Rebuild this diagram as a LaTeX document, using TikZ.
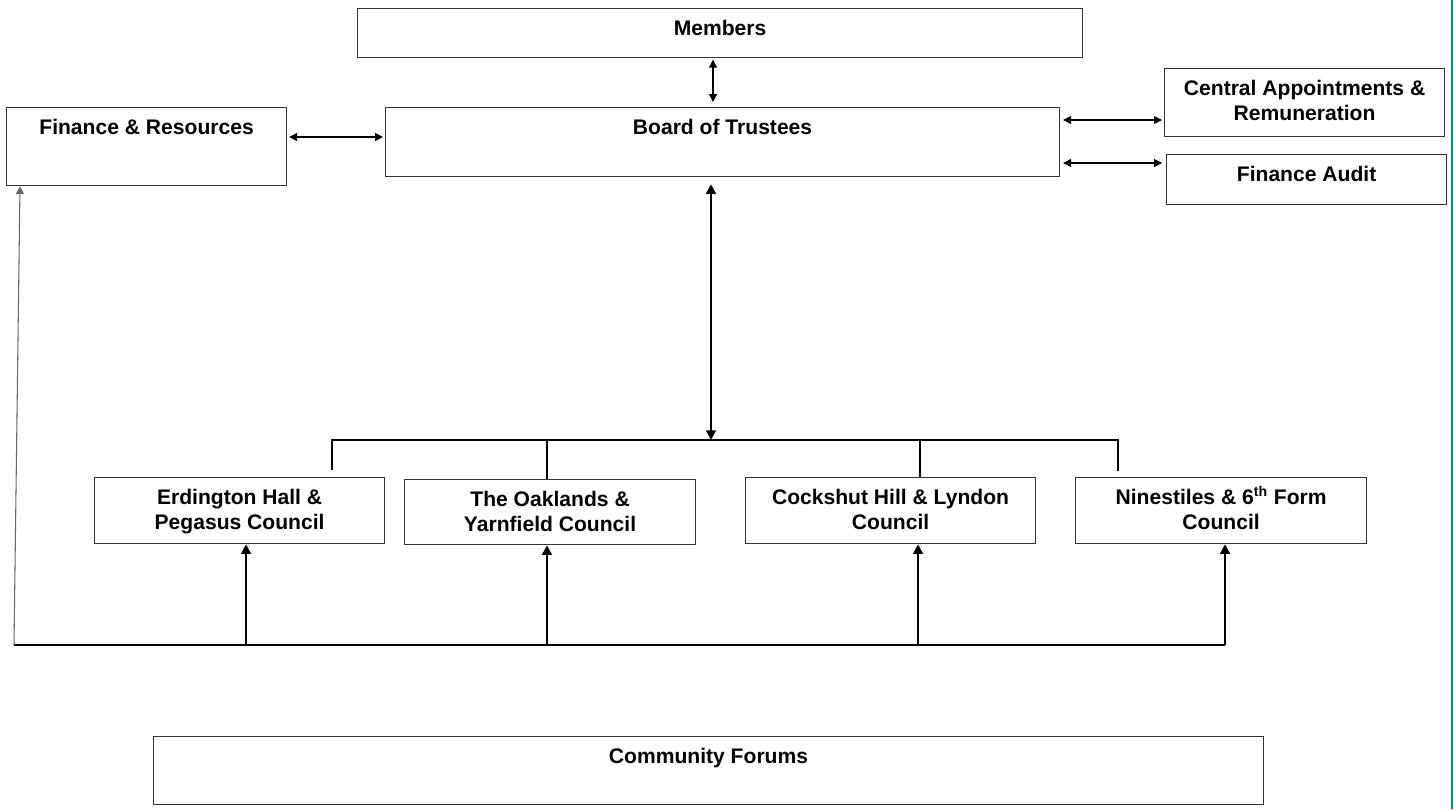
\documentclass[tikz,border=0pt]{standalone}
\usepackage{fontspec}
\setmainfont{Liberation Sans}
\usetikzlibrary{positioning}
\usetikzlibrary{arrows.meta}
\definecolor{tealedge}{RGB}{0,139,148}
\tikzset{
    boxn/.style = {rectangle, draw=black!80, line width=0.7pt, anchor=north west, inner sep=0pt},
    lbl/.style = {anchor=north, inner sep=0pt, yshift=-0.24cm, align=center, font=\bfseries\fontsize{12}{14.2}\selectfont},
    edged/.style = {{Triangle[length=4.5pt,width=4.5pt]}-{Triangle[length=4.5pt,width=4.5pt]}, line width=0.6pt},
    edgedt/.style = {{Triangle[length=5.5pt,width=5.5pt]}-{Triangle[length=5.5pt,width=5.5pt]}, line width=1.6pt},
    edgeu/.style = {-{Triangle[length=5.5pt,width=5.5pt]}, line width=1.6pt},
    busline/.style = {line width=1.6pt},
    dropline/.style = {line width=0.6pt},
    sideline/.style = {-{Triangle[length=4.5pt,width=4.5pt]}, line width=0.6pt, draw=black!60}
}
\begin{document}
\begin{tikzpicture}[x=0.02cm, y=-0.02cm]
  \useasboundingbox (0,0) rectangle (1455,809);

  % top level
  \node[boxn, minimum width=14.5cm, minimum height=0.98cm, label={[lbl]north:Members}] (members) at (357,8) {};
  \node[boxn, minimum width=13.48cm, minimum height=1.38cm, label={[lbl]north:Board of Trustees}] (board) at (385,107) {};
  \node[boxn, minimum width=5.6cm, minimum height=1.56cm, label={[lbl]north:Finance \& Resources}] (finres) at (6,107) {};
  \node[boxn, minimum width=5.6cm, minimum height=1.36cm, label={[lbl]north:{Central Appointments \&\\Remuneration}}] (central) at (1164,68) {};
  \node[boxn, minimum width=5.6cm, minimum height=1.0cm, label={[lbl]north:Finance Audit}] (audit) at (1166,154) {};

  % councils
  \node[boxn, minimum width=5.8cm, minimum height=1.32cm, label={[lbl]north:{Erdington Hall \&\\Pegasus Council}}] (erd) at (94,477) {};
  \node[boxn, minimum width=5.82cm, minimum height=1.3cm, label={[lbl]north:{The Oaklands \&\\Yarnfield Council}}] (oak) at (404,479) {};
  \node[boxn, minimum width=5.8cm, minimum height=1.32cm, label={[lbl]north:{Cockshut Hill \& Lyndon\\Council}}] (cock) at (745,477) {};
  \node[boxn, minimum width=5.82cm, minimum height=1.32cm, label={[lbl]north:{Ninestiles \& 6\smash{\textsuperscript{th}} Form\\Council}}] (nine) at (1075,477) {};

  \node[boxn, minimum width=22.2cm, minimum height=1.36cm, label={[lbl]north:Community Forums}] (forums) at (153,736) {};

  \coordinate (mb) at (713,0);
  \coordinate (l1) at (0,137);
  \coordinate (r1) at (0,120);
  \coordinate (r2) at (0,163);
  \coordinate (hub) at (711,440);
  \coordinate (busl) at (332,470);
  \coordinate (busr) at (1118,471);
  \coordinate (d1) at (547,0);
  \coordinate (d2) at (920,0);
  \coordinate (foot) at (14,645);
  \coordinate (footr) at (1225,645);

  \draw[edged, shorten <=0.03cm, shorten >=0.1cm] (members.south -| mb) -- (board.north -| mb);
  \draw[edged, shorten <=0.04cm, shorten >=0.04cm] (finres.east |- l1) -- (board.west |- l1);
  \draw[edged, shorten <=0.06cm, shorten >=0.04cm] (board.east |- r1) -- (central.west |- r1);
  \draw[edged, shorten <=0.06cm, shorten >=0.08cm] (board.east |- r2) -- (audit.west |- r2);

  \draw[edgedt, shorten <=0.14cm] (board.south -| hub) -- (hub);
  \draw[busline] (busl) |- (hub) -| (busr);
  \draw[dropline] (oak.north -| d1) -- (hub -| d1);
  \draw[dropline] (cock.north -| d2) -- (hub -| d2);

  % bottom feed
  \draw[busline] (foot) -- (footr);
  \foreach \n/\x in {erd/246, oak/547, cock/918, nine/1225} {
    \coordinate (u) at (\x,0);
    \draw[edgeu] (foot -| u) -- (\n.south -| u);
  }
  \draw[sideline] (foot) -- ([xshift=0.28cm]finres.south west);

  \draw[tealedge, line width=1.6pt] (1452,0) -- (1452,809);
\end{tikzpicture}
\end{document}
